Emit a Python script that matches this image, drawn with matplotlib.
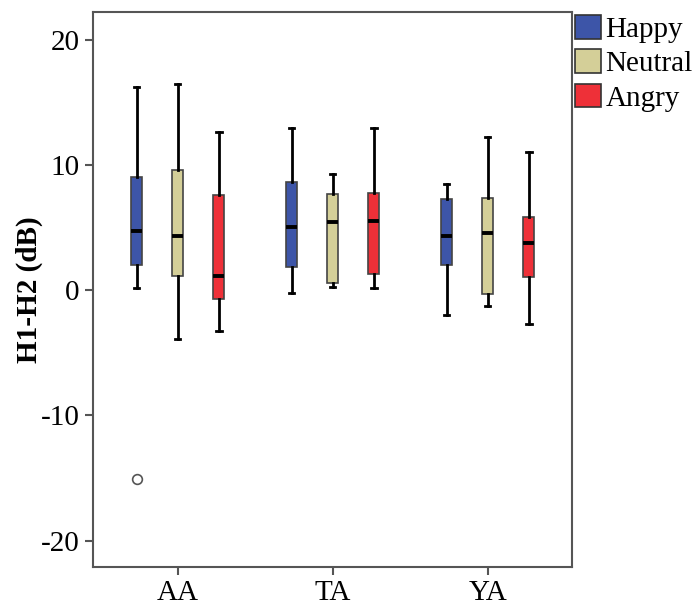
import matplotlib
matplotlib.use("Agg")
import matplotlib.pyplot as plt
from matplotlib.patches import Patch

plt.rcParams['font.family'] = ['Liberation Serif', 'DejaVu Serif']
plt.rcParams['axes.unicode_minus'] = False

groups = ['AA', 'TA', 'YA']
emotions = ['Happy', 'Neutral', 'Angry']
colors = ['#3d55a8', '#d4cf98', '#ee3038']

# five-number summaries: [whislo, q1, med, q3, whishi]
happy = [[0.16, 2.05, 4.73, 9.04, 16.25],
         [-0.24, 1.89, 5.03, 8.62, 12.95],
         [-1.97, 2.05, 4.34, 7.31, 8.48]]
neutral = [[-3.9, 1.12, 4.31, 9.57, 16.5],
           [0.24, 0.56, 5.48, 7.71, 9.26],
           [-1.25, -0.32, 4.57, 7.37, 12.23]]
angry = [[-3.24, -0.74, 1.12, 7.58, 12.63],
         [0.21, 1.33, 5.53, 7.79, 12.93],
         [-2.69, 1.04, 3.78, 5.85, 11.04]]
outliers = {('Happy', 'AA'): [-15.05]}

series = {'Happy': happy, 'Neutral': neutral, 'Angry': angry}

fig = plt.figure(figsize=(6.99, 6.09), dpi=100)
ax = fig.add_axes([0.1326, 0.069, 0.6857, 0.911])

offset = 0.265
for k, emo in enumerate(emotions):
    stats = []
    pos = []
    for g, grp in enumerate(groups):
        lo, q1, med, q3, hi = series[emo][g]
        stats.append(dict(whislo=lo, q1=q1, med=med, q3=q3, whishi=hi,
                          fliers=outliers.get((emo, grp), [])))
        pos.append(g + (k - 1) * offset)
    ax.bxp(stats, positions=pos, widths=0.072, patch_artist=True,
           showfliers=True,
           boxprops=dict(facecolor=colors[k], edgecolor='#444444', linewidth=1.2),
           medianprops=dict(color='black', linewidth=2.8),
           whiskerprops=dict(color='black', linewidth=2),
           capprops=dict(color='black', linewidth=2),
           flierprops=dict(marker='o', markerfacecolor='white',
                           markeredgecolor='#555555', markersize=7,
                           markeredgewidth=1.2),
           manage_ticks=False)

ax.set_xlim(-0.548, 2.544)
ax.set_ylim(-22.1, 22.2)
ax.set_xticks(range(len(groups)))
ax.set_xticklabels(groups)
ax.set_yticks([-20, -10, 0, 10, 20])
ax.tick_params(axis='both', labelsize=21, direction='out', length=6,
               width=1.5, color='#555555')
for s in ax.spines.values():
    s.set_color('#555555')
    s.set_linewidth(1.5)
ax.set_ylabel('H1-H2 (dB)', fontsize=21, fontweight='bold', labelpad=-1.5)

handles = [Patch(facecolor=c, edgecolor='#333333', linewidth=1.2) for c in colors]
ax.legend(handles, emotions, loc='upper left', bbox_to_anchor=(1.0, 1.0),
          frameon=False, fontsize=21, handlelength=0.9, handleheight=0.87,
          handletextpad=0.15, labelspacing=0.22, borderaxespad=0.1,
          borderpad=0.0)

fig.savefig('out.png', dpi=100)
